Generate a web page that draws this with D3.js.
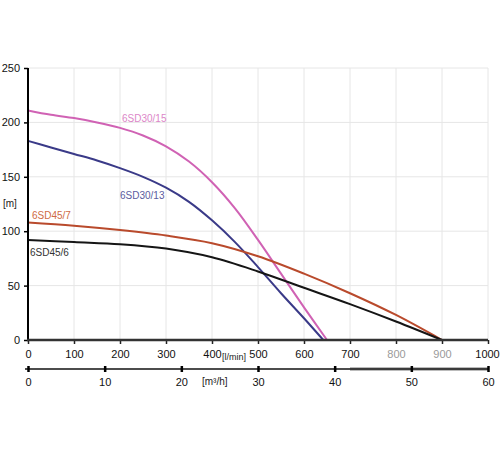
<!DOCTYPE html>
<html>
<head>
<meta charset="utf-8">
<script src="https://cdn.jsdelivr.net/npm/d3@7"></script>
<style>
  body { margin: 0; background: #fff; }
  text { font-family: 'Liberation Sans', Arial, sans-serif; }
</style>
</head>
<body>
<svg id="chart" width="500" height="450"></svg>
<script>
// pump curves: flow [l/min] -> head [m]
const flow30_15 = [0, 50, 100, 150, 200, 250, 300, 350, 400, 450, 500, 550, 600, 650]
const head30_15 = [211, 207, 204, 200, 195, 188, 178, 164, 145, 121, 92, 61, 30, 0]

const flow30_13 = [0, 50, 100, 150, 200, 250, 300, 350, 400, 450, 500, 550, 600, 642]
const head30_13 = [183, 177, 171, 165, 158, 150, 140, 127, 110, 90, 67, 43, 20, 0]

const flow45_7 = [0, 100, 200, 300, 400, 500, 600, 700, 800, 900]
const head45_7 = [108, 105, 101, 96, 89, 77, 61, 43, 23, 0]

const flow45_6 = [0, 100, 200, 300, 400, 500, 600, 700, 800, 900]
const head45_6 = [92, 90, 88, 84, 76, 63, 48, 33, 17, 0]

const seriesNames = ['6SD30/15', '6SD30/13', '6SD45/7', '6SD45/6']
const lineColors = ['#d062b4', '#3a3a88', '#b94a2c', '#151515']
const labelColors = ['#dc86c8', '#5b5b9e', '#cf6a44', '#333333']

const yTicks = [0, 50, 100, 150, 200, 250]
const xTicks = [0, 100, 200, 300, 400, 500, 600, 700, 800, 900, 1000]
const x2Ticks = [0, 10, 20, 30, 40, 50, 60]

const width = 500
const height = 450
const margin = { top: 68, right: 12, bottom: 110, left: 28 }

const svg = d3.select('#chart')

const x = d3.scaleLinear().domain([0, 1000]).range([margin.left, width - margin.right])
const x2 = d3.scaleLinear().domain([0, 60]).range([margin.left, width - margin.right])
const y = d3.scaleLinear().domain([0, 250]).range([height - margin.bottom, margin.top])

// grid
const grid = svg.append('g').attr('id', 'grid')
grid.selectAll('line.v')
  .data(xTicks.slice(1))
  .join('line')
  .attr('x1', d => x(d)).attr('x2', d => x(d))
  .attr('y1', y(250)).attr('y2', y(0))
  .attr('stroke', '#e6e6e6').attr('stroke-width', 1)
grid.selectAll('line.h')
  .data(yTicks.slice(1))
  .join('line')
  .attr('x1', x(0)).attr('x2', x(1000))
  .attr('y1', d => y(d)).attr('y2', d => y(d))
  .attr('stroke', '#e6e6e6').attr('stroke-width', 1)

// curves
const series = [
  { name: seriesNames[0], flow: flow30_15, head: head30_15 },
  { name: seriesNames[1], flow: flow30_13, head: head30_13 },
  { name: seriesNames[2], flow: flow45_7, head: head45_7 },
  { name: seriesNames[3], flow: flow45_6, head: head45_6 },
]

const line = d3.line()
  .x(d => x(d[0]))
  .y(d => y(d[1]))
  .curve(d3.curveCatmullRom.alpha(0.5))

svg.append('g')
  .attr('id', 'curves')
  .selectAll('path')
  .data(series)
  .join('path')
  .attr('d', s => line(s.flow.map((f, i) => [f, s.head[i]])))
  .attr('fill', 'none')
  .attr('stroke', (s, i) => lineColors[i])
  .attr('stroke-width', 2)

// y axis
const yAxis = svg.append('g')
  .attr('transform', `translate(${x(0)},0)`)
  .call(d3.axisLeft(y).tickValues(yTicks).tickSize(4).tickPadding(4))
yAxis.select('.domain').remove()
yAxis.selectAll('.tick line').attr('stroke', '#000').attr('stroke-width', 1.5)
yAxis.selectAll('.tick text').attr('font-size', 11).attr('fill', '#111')
  .attr('font-family', 'Liberation Sans, Arial, sans-serif')
svg.append('line')
  .attr('x1', x(0)).attr('x2', x(0))
  .attr('y1', y(250)).attr('y2', y(0) + 1)
  .attr('stroke', '#000').attr('stroke-width', 2)

// x axis l/min
const xAxis = svg.append('g')
  .attr('transform', `translate(0,${y(0)})`)
  .call(d3.axisBottom(x).tickValues(xTicks).tickFormat(d3.format('d')).tickSize(4).tickPadding(6))
xAxis.select('.domain').remove()
xAxis.selectAll('.tick line').attr('stroke', '#222').attr('stroke-width', 1.5)
xAxis.selectAll('.tick text').attr('font-size', 11)
  .attr('fill', d => (d === 800 || d === 900) ? '#9a9a9a' : '#111')
  .attr('font-family', 'Liberation Sans, Arial, sans-serif')
xAxis.selectAll('.tick text').filter(d => d === 1000).attr('dx', -1)
svg.append('line')
  .attr('x1', x(0) - 1).attr('x2', x(1000))
  .attr('y1', y(0)).attr('y2', y(0))
  .attr('stroke', '#333').attr('stroke-width', 2.5)

// x axis m3/h
const axisY2 = 369
svg.append('line')
  .attr('x1', x2(42)).attr('x2', x2(60))
  .attr('y1', axisY2).attr('y2', axisY2)
  .attr('stroke', '#bbbbbb').attr('stroke-width', 4)
svg.append('line')
  .attr('x1', x2(0) - 3).attr('x2', x2(60))
  .attr('y1', axisY2).attr('y2', axisY2)
  .attr('stroke', '#111').attr('stroke-width', 1.5)
const x2Axis = svg.append('g')
  .attr('transform', `translate(0,${axisY2})`)
  .call(d3.axisBottom(x2).tickValues(x2Ticks).tickSize(3).tickPadding(6))
x2Axis.select('.domain').remove()
x2Axis.selectAll('.tick line').attr('y1', -3).attr('stroke', '#000').attr('stroke-width', 2.5)
x2Axis.selectAll('.tick text').attr('font-size', 11).attr('fill', '#111')
  .attr('font-family', 'Liberation Sans, Arial, sans-serif')

// unit labels
svg.append('text').attr('x', 3).attr('y', 207).attr('font-size', 10).attr('fill', '#222').text('[m]')
svg.append('text').attr('x', 222).attr('y', 360).attr('font-size', 9).attr('fill', '#222').text('[l/min]')
svg.append('text').attr('x', 202).attr('y', 385).attr('font-size', 10).attr('fill', '#222').text('[m³/h]')

// series labels
const labelPos = [[122, 122], [120, 199], [32, 219], [30, 256]]
svg.append('g')
  .selectAll('text')
  .data(series)
  .join('text')
  .attr('x', (s, i) => labelPos[i][0])
  .attr('y', (s, i) => labelPos[i][1])
  .attr('font-size', 10)
  .attr('fill', (s, i) => labelColors[i])
  .text(s => s.name)
</script>
</body>
</html>
